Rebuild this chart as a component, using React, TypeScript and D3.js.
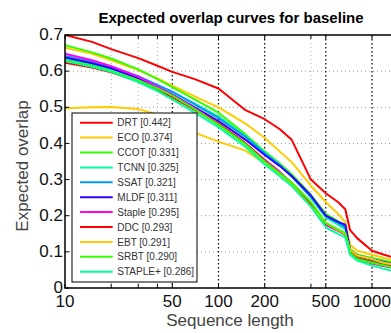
import { useMemo } from 'react'
import * as d3 from 'd3'

// sequence lengths where curves were sampled
const lengths = [10, 15, 20, 30, 40, 50, 70, 100, 150, 200, 250, 300, 400, 500, 600, 670, 720, 800, 1000, 1200, 1400]

const trackers = ['DRT', 'ECO', 'CCOT', 'TCNN', 'SSAT', 'MLDF', 'Staple', 'DDC', 'EBT', 'SRBT', 'STAPLE+']
const scores = [0.442, 0.374, 0.331, 0.325, 0.321, 0.311, 0.295, 0.293, 0.291, 0.290, 0.286]
const colors = ['#ff0000', '#ffcc00', '#33ff00', '#00ff99', '#0099ff', '#3300ff', '#ff00ff', '#ff0000', '#ffcc00', '#33ff00', '#00ff99']

const drt = [.700, .681, .661, .636, .615, .598, .578, .552, .492, .467, .44, .41, .30, .262, .238, .218, .16, .138, .103, .092, .084]
const eco = [.665, .648, .630, .603, .580, .560, .530, .500, .455, .415, .378, .348, .283, .238, .205, .182, .12, .103, .092, .083, .076]
const ccot = [.672, .652, .635, .605, .578, .556, .522, .485, .425, .378, .345, .315, .258, .205, .185, .172, .108, .093, .083, .076, .070]
const tcnn = [.633, .618, .605, .582, .56, .542, .51, .475, .42, .375, .342, .31, .25, .195, .175, .162, .1, .086, .075, .066, .06]
const ssat = [.642, .626, .612, .586, .562, .543, .508, .47, .418, .372, .34, .308, .252, .198, .18, .168, .104, .09, .08, .072, .066]
const mldf = [.638, .622, .608, .58, .555, .535, .5, .462, .41, .368, .338, .31, .256, .2, .183, .175, .105, .09, .079, .071, .065]
const staple = [.648, .63, .614, .585, .557, .535, .497, .455, .4, .355, .322, .29, .232, .175, .158, .148, .098, .08, .068, .06, .055]
const ddc = [.623, .61, .597, .572, .548, .528, .493, .455, .4, .352, .318, .288, .23, .178, .16, .15, .1, .083, .072, .064, .058]
const ebt = [.497, .500, .501, .495, .48, .465, .43, .405, .38, .345, .315, .285, .225, .18, .16, .15, .105, .09, .08, .07, .065]
const srbt = [.630, .615, .6, .575, .552, .532, .495, .452, .398, .35, .318, .292, .238, .18, .162, .152, .097, .08, .07, .062, .056]
const staplePlus = [.628, .612, .598, .57, .545, .522, .485, .445, .39, .342, .31, .282, .225, .168, .15, .14, .092, .076, .062, .053, .046]

const curves = [drt, eco, ccot, tcnn, ssat, mldf, staple, ddc, ebt, srbt, staplePlus]

const majorTicks = [10, 50, 100, 200, 500, 1000]
const minorTicks = [20, 30, 40, 400]
const yTicks = [0, 0.1, 0.2, 0.3, 0.4, 0.5, 0.6, 0.7]

const W = 391, H = 333
const L = 65, T = 35, B = 288, R = 400
const font = '"Liberation Sans", Arial, Helvetica, sans-serif'

export default function App() {
  const x = useMemo(() => d3.scaleLog().domain([10, 1000]).range([L, 372]), [])
  const y = useMemo(() => d3.scaleLinear().domain([0, 0.7]).range([B, T]), [])
  const line = d3.line<number>().x((_, i) => x(lengths[i])).y(v => y(v))

  const lgX = 72, lgY = 113, lgW = 125, lgH = 169, lgStep = 14.9

  return (
    <svg width={W} height={H} style={{ position: 'absolute', left: 0, top: 0 }} fontFamily={font}>
      <rect width={W} height={H} fill="#fff" />
      <defs>
        <clipPath id="plot"><rect x={L} y={T} width={R - L} height={B - T} /></clipPath>
      </defs>

      {/* grid */}
      {yTicks.slice(1, -1).map(t => (
        <line key={t} x1={L} x2={R} y1={y(t)} y2={y(t)} stroke="#999" strokeWidth={1} strokeDasharray="1,3" />
      ))}
      {minorTicks.map(t => (
        <line key={t} x1={x(t)} x2={x(t)} y1={T} y2={B} stroke="#aaa" strokeWidth={1} strokeDasharray="1,3" />
      ))}
      {majorTicks.slice(1).map(t => (
        <line key={t} x1={x(t)} x2={x(t)} y1={T} y2={B} stroke="#000" strokeWidth={1.2} strokeDasharray="1.5,2.5" />
      ))}

      {/* curves */}
      <g clipPath="url(#plot)">
        {curves.map((c, i) => (
          <path key={trackers[i]} d={line(c) ?? ''} fill="none" stroke={colors[i]} strokeWidth={2} strokeLinejoin="round" />
        ))}
      </g>

      {/* frame */}
      <path d={`M${R},${T}H${L}V${B}H${R}`} fill="none" stroke="#000" strokeWidth={1.5} />
      {[...majorTicks, ...minorTicks].map(t => (
        <g key={t}>
          <line x1={x(t)} x2={x(t)} y1={B} y2={B - 4} stroke="#000" />
          <line x1={x(t)} x2={x(t)} y1={T} y2={T + 4} stroke="#000" />
        </g>
      ))}
      {yTicks.map(t => (
        <line key={t} x1={L} x2={L + 4} y1={y(t)} y2={y(t)} stroke="#000" />
      ))}

      {/* tick labels */}
      {yTicks.map(t => (
        <text key={t} x={63} y={y(t)} dy="0.3em" textAnchor="end" fontSize={17} fill="#111">
          {t === 0 ? '0' : t.toFixed(1)}
        </text>
      ))}
      {majorTicks.map(t => (
        <text key={t} x={x(t)} y={307} textAnchor="middle" fontSize={17} fill="#111">{t}</text>
      ))}

      {/* axis labels + title */}
      <text x={230} y={326} textAnchor="middle" fontSize={17} fill="#444">Sequence length</text>
      <text transform={`translate(28,166) rotate(-90)`} textAnchor="middle" fontSize={17} fill="#444">Expected overlap</text>
      <text x={231} y={22.5} textAnchor="middle" fontSize={15} fontWeight="bold" fill="#000">Expected overlap curves for baseline</text>

      {/* legend */}
      <rect x={lgX} y={lgY} width={lgW} height={lgH} fill="#fff" stroke="#000" strokeWidth={1} />
      {trackers.map((name, i) => {
        const cy = lgY + 9.7 + i * lgStep
        return (
          <g key={name}>
            <line x1={80} x2={112.7} y1={cy} y2={cy} stroke={colors[i]} strokeWidth={2} />
            <text x={117.3} y={cy} dy="0.36em" fontSize={10} fill="#333">{`${name} [${scores[i].toFixed(3)}]`}</text>
          </g>
        )
      })}
    </svg>
  )
}
